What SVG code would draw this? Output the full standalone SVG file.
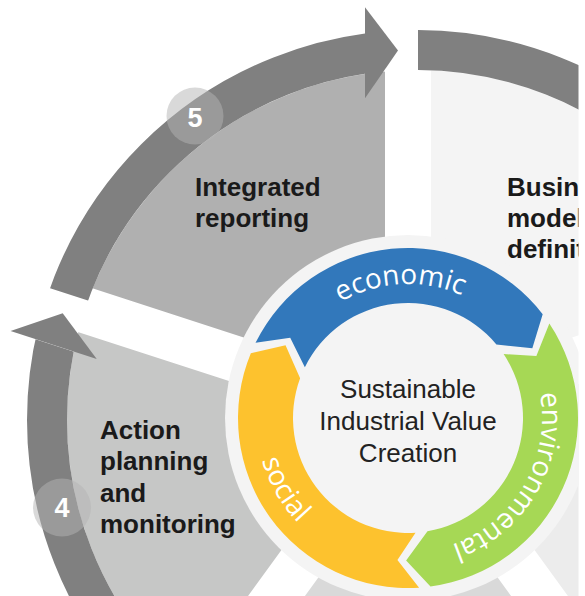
<svg xmlns="http://www.w3.org/2000/svg" width="585" height="596" viewBox="0 0 585 596">
<defs>
<clipPath id="frame"><rect x="0" y="0" width="578.5" height="596"/></clipPath>
<clipPath id="inner"><circle cx="417" cy="420" r="350"/></clipPath>
<clipPath id="bc1"><polygon points="418,415 418,-185 965.37,188.7 394.71,374.1"/></clipPath>
<clipPath id="bc4"><polygon points="399.91,409.12 47.23,894.52 -175.95,270.5 394.71,455.9"/></clipPath>
<clipPath id="bc5"><polygon points="411.09,405.49 -159.57,220.09 365,-185 365,415"/></clipPath>
<path id="arcEco" d="M274,418 A134,134 0 0 1 542,418"/>
<path id="arcEnv" d="M475,301.95 A134,134 0 0 1 341,534.05"/>
<path id="arcSoc" d="M332,286.36 A152,152 0 0 0 484,549.64"/>
</defs>
<style>
.band{fill:none;stroke:#808080;stroke-width:40}
.head{fill:#808080}
.lbl{font-family:"Liberation Sans",Arial,sans-serif;font-weight:bold;font-size:26px;fill:#1a1a1a}
.numbg{fill:#b3b3b3;fill-opacity:0.5}
.num{font-family:"Liberation Sans",Arial,sans-serif;font-weight:bold;font-size:27px;fill:#ffffff;text-anchor:middle}
.arct{font-family:"Open Sans","DejaVu Sans",sans-serif;font-size:28px;fill:#ffffff}
.core{font-family:"Liberation Sans",Arial,sans-serif;font-size:26px;fill:#222222;text-anchor:middle}
</style>
<rect x="0" y="0" width="585" height="596" fill="#ffffff"/>
<g clip-path="url(#frame)">
  <g id="step1">
    <polygon clip-path="url(#inner)" fill="#f4f4f4" points="431,415 431,-185 971.55,207.73 400.89,393.13"/>
    <text class="lbl" x="507" y="196">Business</text>
    <text class="lbl" x="507" y="227">model</text>
    <text class="lbl" x="507" y="258">definition</text>
  </g>
  <g id="step2">
    <polygon clip-path="url(#inner)" fill="#ececec" points="415.11,436.88 985.77,251.48 779.29,886.88 426.61,401.48"/>
  </g>
  <g id="step3">
    <polygon clip-path="url(#inner)" fill="#d9d9d9" points="389.39,428.52 742.07,913.92 73.93,913.92 426.61,428.52"/>
  </g>
  <g id="step4">
    <polygon clip-path="url(#inner)" fill="#c6c7c6" points="389.39,401.48 36.71,886.88 -169.77,251.48 400.89,436.88"/>
    <text class="lbl" x="100" y="438.5">Action</text>
    <text class="lbl" x="100" y="470">planning</text>
    <text class="lbl" x="100" y="501.5">and</text>
    <text class="lbl" x="100" y="533">monitoring</text>
  </g>
  <g id="step5">
    <polygon clip-path="url(#inner)" fill="#b0b0b0" points="415.11,393.13 -155.55,207.73 385,-185 385,415"/>
    <text class="lbl" x="195" y="196">Integrated</text>
    <text class="lbl" x="195" y="227">reporting</text>
  </g>
  <g id="connectors">
    <circle class="band" cx="417" cy="420" r="370" clip-path="url(#bc1)"/>
    <circle class="band" cx="417" cy="420" r="370" clip-path="url(#bc4)"/>
    <circle class="band" cx="417" cy="420" r="370" clip-path="url(#bc5)"/>
    <polygon class="head" points="365,7.3 398,50.5 365,98.2"/>
    <polygon class="head" points="10.56,331.09 62.7,313.33 96.73,359.09"/>
  </g>
  <g id="badge5">
    <circle class="numbg" cx="195" cy="116" r="28.5"/>
    <text class="num" x="195" y="126.5">5</text>
  </g>
  <g id="badge4">
    <circle class="numbg" cx="62" cy="507.5" r="29"/>
    <text class="num" x="62" y="517.3">4</text>
  </g>
  <g id="core">
    <circle cx="408" cy="418" r="183" fill="#f4f4f4"/>
    <text class="core" x="408" y="397.5">Sustainable</text>
    <text class="core" x="408" y="429.5">Industrial Value</text>
    <text class="core" x="408" y="461.5">Creation</text>
  </g>
  <g id="economic">
    <path fill="#3278bb" d="M304.86,367.14 L290.21,337.8 L255.53,342.81 A170,170 0 0 1 542.69,314.27 L532.33,348.37 L496.41,344.46 A115,115 0 0 0 304.86,367.14 Z"/>
    <text class="arct"><textPath href="#arcEco" startOffset="48.2%" text-anchor="middle">economic</textPath></text>
  </g>
  <g id="environmental">
    <path fill="#a6d855" d="M503.62,354.11 L536.35,356.09 L549.35,323.55 A170,170 0 0 1 430.48,586.51 L406.13,560.49 L427.48,531.34 A115,115 0 0 0 503.62,354.11 Z"/>
    <text class="arct"><textPath href="#arcEnv" startOffset="50.1%" text-anchor="middle">environmental</textPath></text>
  </g>
  <g id="social">
    <path fill="#fdc22e" d="M415.52,532.75 L397.44,560.11 L419.12,587.64 A170,170 0 0 1 250.83,353.22 L285.54,345.14 L300.11,378.2 A115,115 0 0 0 415.52,532.75 Z"/>
    <text class="arct"><textPath href="#arcSoc" startOffset="50%" text-anchor="middle">social</textPath></text>
  </g>
</g>
</svg>
